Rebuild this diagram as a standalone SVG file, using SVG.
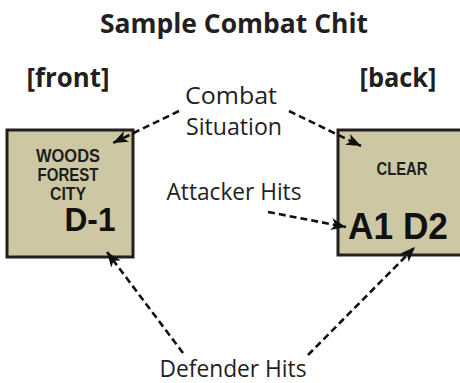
<svg xmlns="http://www.w3.org/2000/svg" width="460" height="383" viewBox="0 0 460 383">
<style>
.lbl{font-family:"Open Sans","Noto Sans","Liberation Sans",sans-serif;font-size:23px;fill:#231f20;text-anchor:middle}
.hd{font-family:"Open Sans","Noto Sans","Liberation Sans",sans-serif;font-weight:bold;fill:#231f20;text-anchor:middle}
.chit{fill:#cdc8a3;stroke:#231f20;stroke-width:3}
.sm{font-family:"Liberation Sans",Arial,sans-serif;font-weight:bold;font-size:17.5px;fill:#1e1e1e;text-anchor:middle}
.big{font-family:"Liberation Sans",Arial,sans-serif;font-weight:bold;fill:#111;text-anchor:middle}
.ar{fill:none;stroke:#111;stroke-width:2.6;stroke-dasharray:7 4;marker-end:url(#ah)}
</style>
<defs>
<marker id="ah" markerUnits="userSpaceOnUse" markerWidth="16" markerHeight="12" refX="15" refY="6" orient="auto">
<path d="M0,0 L15,6 L0,12 L4,6 Z" fill="#111"/>
</marker>
</defs>
<rect width="460" height="383" fill="#fff"/>
<g id="title">
<text class="hd" x="234" y="33" font-size="26" textLength="268" lengthAdjust="spacingAndGlyphs">Sample Combat Chit</text>
</g>
<g id="front-label"><text class="hd" x="68" y="87" font-size="27" textLength="83" lengthAdjust="spacingAndGlyphs">[front]</text></g>
<g id="back-label"><text class="hd" x="398" y="87" font-size="27" textLength="77" lengthAdjust="spacingAndGlyphs">[back]</text></g>
<g id="front-chit">
<rect class="chit" x="7" y="130" width="126" height="127"/>
<text class="sm" x="68" y="162" textLength="64" lengthAdjust="spacingAndGlyphs">WOODS</text>
<text class="sm" x="68" y="181" textLength="61" lengthAdjust="spacingAndGlyphs">FOREST</text>
<text class="sm" x="68" y="200" textLength="36" lengthAdjust="spacingAndGlyphs">CITY</text>
<text class="big" x="90" y="231" font-size="33" textLength="51" lengthAdjust="spacingAndGlyphs">D-1</text>
</g>
<g id="back-chit">
<rect class="chit" x="338" y="130" width="130" height="125"/>
<text class="sm" x="402" y="175" font-size="19" textLength="51" lengthAdjust="spacingAndGlyphs">CLEAR</text>
<text class="big" x="398" y="239" font-size="36" textLength="100" lengthAdjust="spacingAndGlyphs">A1 D2</text>
</g>
<g id="combat-situation">
<text class="lbl" x="231" y="104" textLength="92" lengthAdjust="spacingAndGlyphs">Combat</text>
<text class="lbl" x="234" y="135" textLength="96" lengthAdjust="spacingAndGlyphs">Situation</text>
</g>
<g id="attacker-hits"><text class="lbl" x="234" y="200" textLength="135" lengthAdjust="spacingAndGlyphs">Attacker Hits</text></g>
<g id="defender-hits"><text class="lbl" x="233" y="377" textLength="147" lengthAdjust="spacingAndGlyphs">Defender Hits</text></g>
<g id="connectors">
<path class="ar" d="M179,111 L113,143"/>
<path class="ar" d="M289,111 L361,146"/>
<path class="ar" d="M268,212 L346,227"/>
<path class="ar" d="M183,353 L107,252"/>
<path class="ar" d="M308,355 L415,247"/>
</g>
</svg>
